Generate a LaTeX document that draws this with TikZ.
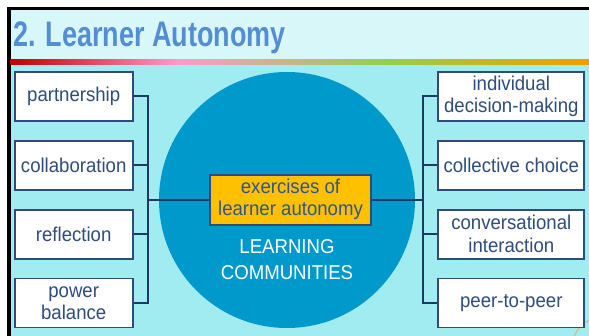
\documentclass[tikz,border=0pt]{standalone}
\usepackage{fontspec}
\setmainfont{Liberation Sans}[FakeStretch=0.93]
\newfontfamily\titlefont{Liberation Sans}[FakeStretch=0.76]
\definecolor{titlebg}{RGB}{216,247,249}
\definecolor{mainbg}{RGB}{161,236,240}
\definecolor{titlec}{RGB}{84,141,212}
\definecolor{gred}{RGB}{192,0,0}
\definecolor{gpink}{RGB}{255,153,204}
\definecolor{ggreen}{RGB}{146,208,80}
\definecolor{gorange}{RGB}{245,155,0}
\definecolor{circc}{RGB}{0,153,204}
\definecolor{boxline}{RGB}{47,75,124}
\definecolor{boxtext}{RGB}{46,77,123}
\definecolor{linkc}{RGB}{31,56,100}
\definecolor{ambre}{RGB}{255,192,0}
\definecolor{ambretext}{RGB}{47,84,150}
\definecolor{arcc}{RGB}{230,170,90}
\begin{document}
\begin{tikzpicture}[x=1pt,y=-1pt,
  leaf/.style={draw=boxline, line width=1.9pt, fill=white, text=boxtext, inner sep=0pt,
    minimum height=49pt, align=center, font=\fontsize{20}{22.5}\selectfont},
  leftleaf/.style={leaf, minimum width=118pt},
  rightleaf/.style={leaf, minimum width=146pt},
  hub/.style={draw=boxline, line width=1.9pt, fill=ambre, text=ambretext, inner sep=0pt,
    minimum width=161pt, minimum height=50pt, align=center, font=\fontsize{20}{21.7}\selectfont},
  link/.style={draw=linkc, line width=1.9pt}]
\useasboundingbox (0,0) rectangle (589,336);
% background and frame
\fill[white] (0,0) rectangle (589,336);
\fill[black] (7,7) rectangle (589,336);
\fill[titlebg] (10.5,10.5) rectangle (589,60);
\shade[left color=gred, right color=gpink] (10.5,60) rectangle (177.5,65);
\shade[left color=gpink, right color=ggreen] (177,60) rectangle (383.5,65);
\shade[left color=ggreen, right color=gorange] (383,60) rectangle (589,65);
\fill[mainbg] (10.5,65) rectangle (589,336);
% title
\node[anchor=base west, inner sep=0pt, text=titlec, font=\titlefont\fontsize{35.5}{40}\selectfont\bfseries]
  (title) at (13,46.5) {2. Learner Autonomy};
% circle
\fill[circc] (287,200) circle (128);
% small corner arc
\begin{scope}
\clip (560,300) rectangle (589,336);
\draw[arcc, line width=0.8pt] (600,345) circle (27);
\end{scope}
% buses
\coordinate (lx) at (148.3,199.6);
\coordinate (rx) at (422.7,199.6);
% hub
\node[hub] (ex) at (290.5,199.6) {exercises of\\learner autonomy};
\node[text=white, align=center, font=\fontsize{20}{26.7}\selectfont, anchor=base, inner sep=0pt] (lc) at (287,280)
  {LEARNING\\COMMUNITIES};
% left leaves
\node[leftleaf] (l1) at (73.7,96.3) {partnership};
\node[leftleaf] (l2) at (73.7,165.2) {collaboration};
\node[leftleaf] (l3) at (73.7,234.1) {reflection};
\node[leftleaf] (l4) at (73.7,303) {power\\balance};
% right leaves
\node[rightleaf] (r1) at (511.3,96.3) {individual\\decision-making};
\node[rightleaf] (r2) at (511.3,165.2) {collective choice};
\node[rightleaf] (r3) at (511.3,234.1) {conversational\\interaction};
\node[rightleaf] (r4) at (511.3,303) {peer-to-peer};
\draw[link] (l1.east) -| (lx);
\draw[link] (l2.east) -| (lx);
\draw[link] (l3.east) -| (lx);
\draw[link] (l4.east) -| (lx);
\draw[link] (lx) -- (ex.west);
\draw[link] (ex.east) -- (rx);
\draw[link] (rx) |- (r1.west);
\draw[link] (rx) |- (r2.west);
\draw[link] (rx) |- (r3.west);
\draw[link] (rx) |- (r4.west);
\end{tikzpicture}
\end{document}
